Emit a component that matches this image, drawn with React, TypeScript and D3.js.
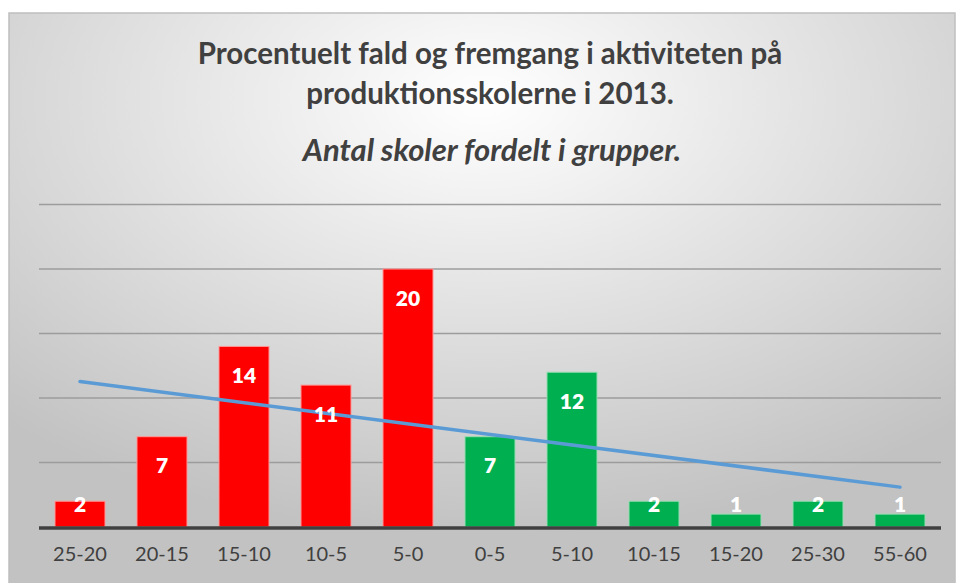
import * as d3 from 'd3';
import { useEffect, useRef } from 'react';

const categories = ['25-20', '20-15', '15-10', '10-5', '5-0', '0-5', '5-10', '10-15', '15-20', '25-30', '55-60'];
const counts = [2, 7, 14, 11, 20, 7, 12, 2, 1, 2, 1];
const isDecline = [true, true, true, true, true, false, false, false, false, false, false];
const gridTicks = [0, 5, 10, 15, 20, 25];

const width = 957;
const height = 583;

export default function App() {
  const ref = useRef<SVGSVGElement>(null);

  useEffect(() => {
    const svg = d3.select(ref.current);
    svg.selectAll('*').remove();

    const font = 'Lato, "Open Sans", sans-serif';
    const margin = { left: 39, right: 16, top: 205, bottom: 56 };
    const x = d3.scaleBand().domain(categories).range([margin.left, width - margin.right]).paddingInner(0.39).paddingOuter(0.195);
    const y = d3.scaleLinear().domain([0, 20]).range([527, 269]);

    const defs = svg.append('defs');
    const grad = defs.append('radialGradient')
      .attr('id', 'bg')
      .attr('cx', '50%').attr('cy', '15%').attr('r', '75%');
    grad.append('stop').attr('offset', '0%').attr('stop-color', '#ffffff');
    grad.append('stop').attr('offset', '100%').attr('stop-color', '#c2c2c2');

    svg.append('rect')
      .attr('x', 9).attr('y', 13).attr('width', 946).attr('height', 580)
      .attr('fill', 'url(#bg)')
      .attr('stroke', '#bfbfbf').attr('stroke-width', 1.5);

    // gridlines
    svg.append('g')
      .selectAll('line')
      .data(gridTicks.slice(1))
      .enter()
      .append('line')
      .attr('x1', margin.left).attr('x2', width - margin.right)
      .attr('y1', (d) => y(d)).attr('y2', (d) => y(d))
      .attr('stroke', '#9c9c9c').attr('stroke-width', 1.5);

    // bars
    svg.append('g')
      .selectAll('rect')
      .data(counts)
      .enter()
      .append('rect')
      .attr('x', (d, i) => x(categories[i])!)
      .attr('y', (d) => y(d))
      .attr('width', x.bandwidth())
      .attr('height', (d) => y(0) - y(d))
      .attr('fill', (d, i) => (isDecline[i] ? '#ff0000' : '#00b050'))
      .attr('stroke', (d, i) => (isDecline[i] ? '#ff9a9a' : '#9adcb4'))
      .attr('stroke-width', 1);

    // baseline
    svg.append('line')
      .attr('x1', margin.left).attr('x2', width - margin.right)
      .attr('y1', y(0) + 1).attr('y2', y(0) + 1)
      .attr('stroke', '#404040').attr('stroke-width', 3.5);

    // linear trend line
    const idx = counts.map((_, i) => i + 1);
    const mx = d3.mean(idx)!;
    const my = d3.mean(counts)!;
    const slope = d3.sum(idx, (v, i) => (v - mx) * (counts[i] - my)) / d3.sum(idx, (v) => (v - mx) ** 2);
    const trend = (v: number) => my + slope * (v - mx);
    const cx = (i: number) => x(categories[i])! + x.bandwidth() / 2;
    svg.append('line')
      .attr('x1', cx(0)).attr('y1', y(trend(1)))
      .attr('x2', cx(categories.length - 1)).attr('y2', y(trend(categories.length)))
      .attr('stroke', '#5b9bd5').attr('stroke-width', 3.5).attr('stroke-linecap', 'round');

    // data labels
    svg.append('g')
      .selectAll('text')
      .data(counts)
      .enter()
      .append('text')
      .attr('x', (d, i) => cx(i))
      .attr('y', (d) => Math.min(y(d) + 28, y(0) - 24))
      .attr('text-anchor', 'middle')
      .attr('dominant-baseline', 'central')
      .style('font-family', font)
      .style('font-size', '21px')
      .style('font-weight', '800')
      .style('fill', '#ffffff')
      .text((d) => d);

    // category labels
    svg.append('g')
      .selectAll('text')
      .data(categories)
      .enter()
      .append('text')
      .attr('x', (d) => x(d)! + x.bandwidth() / 2)
      .attr('y', 561)
      .attr('text-anchor', 'middle')
      .style('font-family', font)
      .style('font-size', '20px')
      .style('fill', '#404040')
      .text((d) => d);

    // titles
    const titleLines = ['Procentuelt fald og fremgang i aktiviteten på', 'produktionsskolerne i 2013.'];
    svg.append('g')
      .selectAll('text')
      .data(titleLines)
      .enter()
      .append('text')
      .attr('x', 490)
      .attr('y', (d, i) => 64 + i * 40)
      .attr('text-anchor', 'middle')
      .style('font-family', font)
      .style('font-size', '29.5px')
      .style('font-weight', '700')
      .style('fill', '#404040')
      .text((d) => d);

    svg.append('text')
      .attr('x', 492)
      .attr('y', 161)
      .attr('text-anchor', 'middle')
      .style('font-family', font)
      .style('font-size', '31px')
      .style('font-weight', '700')
      .style('font-style', 'italic')
      .style('fill', '#404040')
      .text('Antal skoler fordelt i grupper.');
  }, []);

  return (
    <svg
      ref={ref}
      width={width}
      height={height}
      style={{ position: 'absolute', left: 0, top: 0, background: '#ffffff' }}
    />
  );
}
